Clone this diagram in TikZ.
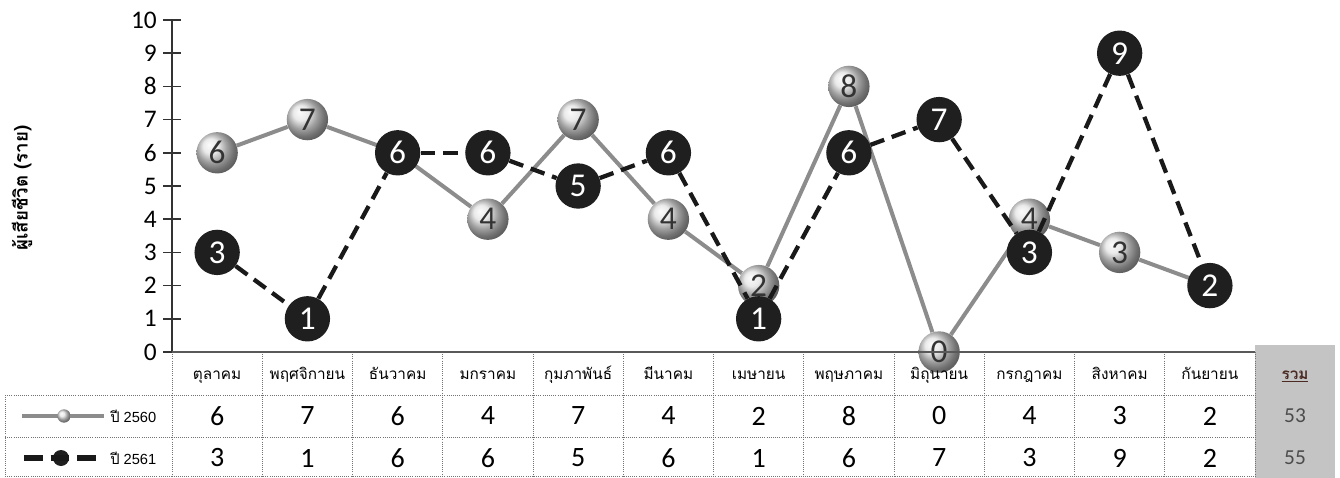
\documentclass[tikz,border=0pt]{standalone}
\usepackage{fontspec}
\setmainfont{Carlito}
\newfontfamily\thaifont[Script=Thai]{Loma}
\newfontfamily\legendfont{Liberation Sans}
\usepackage{tikz}
\usetikzlibrary{positioning, backgrounds}
\definecolor{linegray}{HTML}{8C8C8C}
\definecolor{sumgray}{HTML}{C4C4C4}
\definecolor{sumtext}{HTML}{4A2A22}

\pgfdeclarelayer{lineA}
\pgfdeclarelayer{ballA}
\pgfdeclarelayer{lineB}
\pgfsetlayers{background,lineA,ballA,lineB,main}

\begin{document}
\begin{tikzpicture}[
  x=0.75pt, y=-0.75pt,
  lightball/.style={circle, shading=ball, ball color=gray!22, minimum size=31pt, inner sep=0pt, text=black!80, font=\fontsize{25}{25}\selectfont},
  darkball/.style={circle, fill=black!88, minimum size=34pt, inner sep=0pt, text=white, font=\fontsize{25}{25}\selectfont},
  line60/.style={draw=linegray, line width=3pt},
  line61/.style={draw=black!90, line width=3.2pt, dash pattern=on 11pt off 6pt},
  gridline/.style={draw=black!55, densely dotted, line width=0.6pt},
  ylabel/.style={anchor=east, inner sep=0pt, font=\fontsize{19}{19}\selectfont},
  monthcell/.style={anchor=base, inner sep=0pt, font=\thaifont\fontsize{11.5}{11.5}\selectfont},
  valcell/.style={inner sep=0pt, font=\fontsize{21}{21}\selectfont},
  legendtext/.style={anchor=west, inner sep=0pt, font=\legendfont\fontsize{11}{11}\selectfont}
]
  \useasboundingbox (0,0) rectangle (1340,478);

  % y axis
  \draw[black!80, line width=1.2pt] (172,20) -- (172,352);
  \foreach \t in {0,...,10} {
    \draw[black!80, line width=1.2pt] (163,{352-33.2*\t}) -- (181,{352-33.2*\t});
    \node[ylabel] (y\t) at (157,{352-33.2*\t}) {\t};
  }
  \node[rotate=90, font=\thaifont\bfseries\fontsize{14}{14}\selectfont] (ytitle) at (22,188) {ผู้เสียชีวิต (ราย)};

  % data table
  \fill[sumgray] (1255,345) rectangle (1335,478);
  \foreach \k in {0,...,12}
    \draw[gridline] ({172+90.25*\k},352) -- ({172+90.25*\k},476);
  \draw[gridline] (5,395) -- (1255,395);
  \draw[gridline] (5,437) -- (1255,437);
  \draw[gridline] (5,476) -- (1255,476);
  \draw[gridline] (5,395) -- (5,476);
  \draw[black!65, line width=2.2pt] (172,352) -- (1255,352);

  \foreach \m [count=\i] in {ตุลาคม,พฤศจิกายน,ธันวาคม,มกราคม,กุมภาพันธ์,มีนาคม,เมษายน,พฤษภาคม,มิถุนายน,กรกฎาคม,สิงหาคม,กันยายน}
    \node[monthcell] (m\i) at ({126.9+90.25*\i},379) {\m};
  \foreach \v [count=\i] in {6,7,6,4,7,4,2,8,0,4,3,2}
    \node[valcell] (p\i) at ({126.9+90.25*\i},416) {\v};
  \foreach \v [count=\i] in {3,1,6,6,5,6,1,6,7,3,9,2}
    \node[valcell] (q\i) at ({126.9+90.25*\i},458) {\v};

  \node[anchor=base, font=\thaifont\bfseries\fontsize{11.5}{11.5}\selectfont, text=sumtext] (sumhead) at (1295,379) {\underline{รวม}};
  \node[valcell, font=\fontsize{16}{16}\selectfont, text=black!70] (sumA) at (1295,416) {53};
  \node[valcell, font=\fontsize{16}{16}\selectfont, text=black!70] (sumB) at (1295,458) {55};

  % legend
  \coordinate (la0) at (22,416);
  \coordinate (la1) at (104,416);
  \coordinate (lb0) at (24,458);
  \coordinate (lb1) at (98,458);
  \begin{pgfonlayer}{ballA}
    \node[circle, shading=ball, ball color=gray!22, minimum size=10pt, inner sep=0pt] (legA) at (64,416) {};
  \end{pgfonlayer}
  \node[circle, fill=black!88, minimum size=12pt, inner sep=0pt] (legB) at (61,458) {};
  \begin{pgfonlayer}{lineA}
    \draw[line60] (la0) -- (la1);
  \end{pgfonlayer}
  \draw[line61, line width=4pt, dash pattern=on 14pt off 6pt] (lb0) -- (lb1);
  \node[legendtext] (legtextA) at (110,416) {{\thaifont ปี} 2560};
  \node[legendtext] (legtextB) at (110,458) {{\thaifont ปี} 2561};

  % series 2560
  \begin{pgfonlayer}{ballA}
    \foreach \v [count=\i] in {6,7,6,4,7,4,2,8,0,4,3,2}
      \node[lightball] (a\i) at ({126.9+90.25*\i},{352-33.2*\v}) {\v};
  \end{pgfonlayer}
  \begin{pgfonlayer}{lineA}
    \foreach \i [remember=\i as \j (initially 1)] in {2,...,12}
      \draw[line60] (a\j) -- (a\i);
  \end{pgfonlayer}

  % series 2561
  \foreach \v [count=\i] in {3,1,6,6,5,6,1,6,7,3,9,2}
    \node[darkball] (b\i) at ({126.9+90.25*\i},{352-33.2*\v}) {\v};
  \begin{pgfonlayer}{lineB}
    \foreach \i [remember=\i as \j (initially 1)] in {2,...,12}
      \draw[line61] (b\j) -- (b\i);
  \end{pgfonlayer}
\end{tikzpicture}
\end{document}
